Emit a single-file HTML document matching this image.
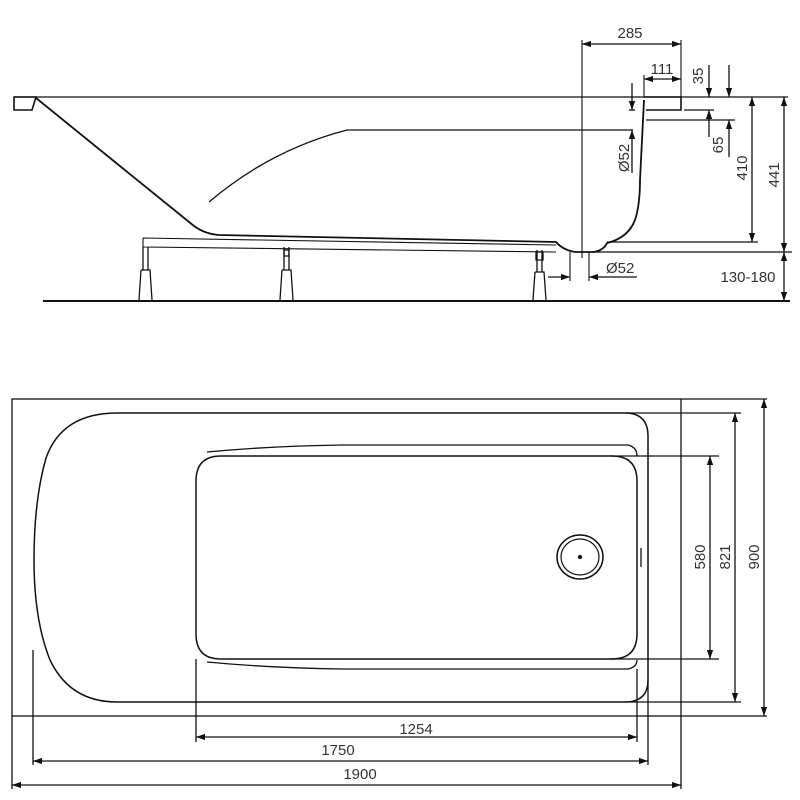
<!DOCTYPE html>
<html><head><meta charset="utf-8"><style>
html,body{margin:0;padding:0;background:#fff;}
svg{display:block}
text{font-family:"Liberation Sans",sans-serif;font-size:15px;fill:#333;}
</style></head><body>
<svg width="800" height="800" viewBox="0 0 800 800" xmlns="http://www.w3.org/2000/svg">
<defs>
<marker id="a" viewBox="0 0 10 10" refX="10" refY="5" markerWidth="7" markerHeight="7" orient="auto-start-reverse"><path d="M0,1.5 L10,5 L0,8.5 z" fill="#111"/></marker>
</defs>
<g stroke="#111" stroke-width="1.3" fill="none">
<line x1="14" y1="97" x2="788" y2="97"/>
<path d="M14,97 L36,97 L32,110 L14,110 Z" stroke-width="1.6"/>
<path d="M36,98 L194,226 Q205,234 219,235 L556,242 Q563,250 575,252 L594,252 Q604,250 607,243 Q628,238 635,220 Q640,205 640,180 L644,100" stroke-width="1.8"/>
<path d="M644,97 L681,97 L681,110 L646,110" stroke-width="1.6"/>
<path d="M209,202 Q270,150 347,130 L633,130"/>
<path d="M143,238 L556,245 M143,238 L143,247 L556,252" stroke-width="1.1"/>
<g stroke-width="1.3">
<path d="M143,247 L143,270 M148,247 L148,270 M141,270 L150,270 L152,300 M141,270 L139,300"/>
<path d="M284,247 L284,270 M289,247 L289,270 M282,270 L291,270 L293,300 M282,270 L280,300"/>
<path d="M284,250 h5 v6 h-5 z"/>
<path d="M537,250 L537,272 M542,250 L542,272 M535,272 L544,272 L546,300 M535,272 L533,300"/>
<path d="M536,252 h7 v8 h-7 z"/>
</g>
<line x1="43" y1="301" x2="790" y2="301" stroke-width="2"/>
<line x1="582" y1="40" x2="582" y2="258" stroke-width="1.1"/>
<line x1="681" y1="40" x2="681" y2="97" stroke-width="1.1"/>
<line x1="582" y1="44" x2="681" y2="44" marker-start="url(#a)" marker-end="url(#a)"/>
<line x1="644" y1="75" x2="644" y2="97" stroke-width="1.1"/>
<line x1="644" y1="79" x2="681" y2="79" marker-start="url(#a)" marker-end="url(#a)"/>
<line x1="709" y1="65" x2="709" y2="97" marker-end="url(#a)"/>
<line x1="729" y1="65" x2="729" y2="97" marker-end="url(#a)"/>
<line x1="684" y1="110" x2="714" y2="110"/>
<line x1="646" y1="120" x2="735" y2="120"/>
<line x1="709" y1="137" x2="709" y2="110" marker-end="url(#a)"/>
<line x1="729" y1="157" x2="729" y2="120" marker-end="url(#a)"/>
<line x1="632" y1="83" x2="632" y2="110" marker-end="url(#a)"/>
<line x1="629" y1="110" x2="635" y2="110"/>
<line x1="632" y1="173" x2="632" y2="130" marker-end="url(#a)"/>
<line x1="607" y1="242" x2="758" y2="242"/>
<line x1="752" y1="97" x2="752" y2="242" marker-start="url(#a)" marker-end="url(#a)"/>
<line x1="592" y1="252" x2="792" y2="252"/>
<line x1="784" y1="97" x2="784" y2="252" marker-start="url(#a)" marker-end="url(#a)"/>
<line x1="784" y1="252" x2="784" y2="301" marker-start="url(#a)" marker-end="url(#a)"/>
<line x1="570" y1="252" x2="570" y2="281" stroke-width="1.1"/>
<line x1="589" y1="252" x2="589" y2="281" stroke-width="1.1"/>
<line x1="548" y1="277" x2="570" y2="277" marker-end="url(#a)"/>
<line x1="637" y1="277" x2="589" y2="277" marker-end="url(#a)"/>
<rect x="12" y="399" width="669" height="317" stroke-width="1.3"/>
<path d="M117,413 L625,413 Q648,413 648,436 L648,680 Q648,702 625,702 L117,702 Q70,702 50,660 Q34,620 34,560 Q34,500 46,458 Q62,413 117,413 Z" stroke-width="1.5"/>
<path d="M221,456 L612,456 Q637,456 637,481 L637,634 Q637,659 612,659 L221,659 Q196,659 196,634 L196,481 Q196,456 221,456 Z" stroke-width="1.5"/>
<path d="M207,452 Q270,446 342,445 L628,445 Q637,447 637,456" stroke-width="1.3"/>
<path d="M207,662 Q270,668 342,669 L628,669 Q637,667 637,660" stroke-width="1.3"/>
<ellipse cx="580" cy="557" rx="23" ry="22" stroke-width="1.5"/>
<ellipse cx="580" cy="557" rx="19" ry="18" stroke-width="1.2"/>
<circle cx="580" cy="557" r="1.5" fill="#111"/>
<line x1="641" y1="548" x2="641" y2="567"/>
<line x1="610" y1="456" x2="719" y2="456"/>
<line x1="610" y1="659" x2="719" y2="659"/>
<line x1="710" y1="456" x2="710" y2="659" marker-start="url(#a)" marker-end="url(#a)"/>
<line x1="625" y1="413" x2="741" y2="413"/>
<line x1="625" y1="702" x2="741" y2="702"/>
<line x1="735" y1="413" x2="735" y2="702" marker-start="url(#a)" marker-end="url(#a)"/>
<line x1="681" y1="399" x2="767" y2="399"/>
<line x1="681" y1="716" x2="767" y2="716"/>
<line x1="764" y1="399" x2="764" y2="716" marker-start="url(#a)" marker-end="url(#a)"/>
<line x1="196" y1="659" x2="196" y2="742"/>
<line x1="637" y1="669" x2="637" y2="742"/>
<line x1="196" y1="737" x2="637" y2="737" marker-start="url(#a)" marker-end="url(#a)"/>
<line x1="33" y1="650" x2="33" y2="765"/>
<line x1="648" y1="680" x2="648" y2="765"/>
<line x1="33" y1="761" x2="648" y2="761" marker-start="url(#a)" marker-end="url(#a)"/>
<line x1="12" y1="716" x2="12" y2="789"/>
<line x1="681" y1="716" x2="681" y2="789"/>
<line x1="12" y1="785" x2="681" y2="785" marker-start="url(#a)" marker-end="url(#a)"/>
</g>
<text x="630" y="38" text-anchor="middle">285</text>
<text x="662" y="74" text-anchor="middle">111</text>
<text x="606" y="273">Ø52</text>
<text x="748" y="282" text-anchor="middle">130-180</text>
<text transform="translate(703,76) rotate(-90)" text-anchor="middle">35</text>
<text transform="translate(723,145) rotate(-90)" text-anchor="middle">65</text>
<text transform="translate(629,158) rotate(-90)" text-anchor="middle">Ø52</text>
<text transform="translate(747,168) rotate(-90)" text-anchor="middle">410</text>
<text transform="translate(779,175) rotate(-90)" text-anchor="middle">441</text>
<text transform="translate(705,557) rotate(-90)" text-anchor="middle">580</text>
<text transform="translate(730,557) rotate(-90)" text-anchor="middle">821</text>
<text transform="translate(759,557) rotate(-90)" text-anchor="middle">900</text>
<text x="416" y="734" text-anchor="middle">1254</text>
<text x="338" y="755" text-anchor="middle">1750</text>
<text x="360" y="779" text-anchor="middle">1900</text>
</svg>
</body></html>
